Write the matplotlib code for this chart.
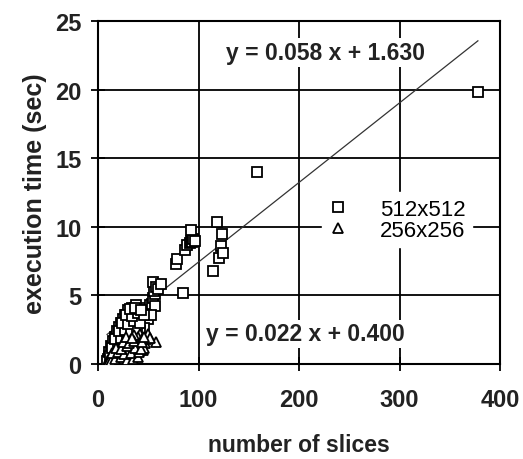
import matplotlib
matplotlib.use("Agg")
import matplotlib.pyplot as plt
import numpy as np

plt.rcParams['font.family'] = ['Liberation Sans', 'DejaVu Sans']

# 512x512 data (squares)
x512 = [10, 11, 12, 13, 14, 14, 15, 16, 16, 17, 18, 18, 19, 20, 20, 21, 22, 22, 23, 24,
        24, 25, 26, 26, 27, 28, 28, 29, 30, 31, 32, 33, 35, 36, 38, 40, 41, 43, 45, 47,
        50, 52, 54, 55, 57, 56, 55, 58, 60, 63, 57, 12, 15, 18, 22, 26, 30, 34, 28, 32,
        36, 40, 44,
        9, 11, 13, 15, 17, 19, 21, 23, 25, 27, 30, 34, 38, 24, 20, 28, 32, 36, 40, 44,
        48, 50, 53, 46, 42, 38, 16, 25, 30,
        12, 18, 24, 14, 20, 26, 32, 17, 23, 29, 35, 21, 27, 33, 39, 24, 30, 36, 42,
        28, 34, 40, 46, 32, 37, 43,
        78, 79, 85, 87, 89, 92, 93, 94, 95, 97, 92.5, 114, 118, 120, 122, 123, 124,
        158, 378]
y512 = [0.4, 0.6, 0.5, 0.8, 0.7, 1.0, 1.2, 0.9, 1.4, 1.1, 1.6, 1.3, 1.8, 1.5, 2.0, 1.7, 2.2, 1.9, 2.4, 2.1,
        2.7, 2.5, 2.9, 2.3, 3.1, 2.7, 3.3, 3.0, 3.5, 3.2, 3.7, 3.4, 3.9, 3.6, 4.0, 3.8, 3.6, 3.4, 3.8, 4.1,
        3.9, 4.3, 4.4, 4.8, 5.1, 5.3, 6.0, 5.6, 5.5, 5.8, 4.2, 0.3, 0.5, 0.7, 0.9, 1.3, 1.8, 2.4, 1.6, 2.0,
        2.8, 3.0, 2.9,
        0.2, 0.9, 1.3, 1.7, 2.0, 2.4, 2.7, 3.0, 3.3, 3.6, 3.9, 4.1, 4.3, 1.5, 1.0, 2.2, 2.7, 3.2, 3.4, 3.3,
        3.6, 3.3, 3.6, 2.6, 2.4, 2.2, 0.4, 1.0, 1.4,
        0.6, 0.7, 0.5, 1.2, 1.1, 1.3, 1.2, 1.8, 1.9, 1.7, 1.8, 2.4, 2.5, 2.3, 2.4, 3.0, 2.9, 3.1, 3.0,
        3.6, 3.5, 3.7, 3.6, 4.0, 4.1, 3.9,
        7.3, 7.65, 5.2, 8.3, 8.7, 8.8, 9.0, 8.9, 9.1, 9.0, 9.8, 6.8, 10.35, 7.7, 8.6, 9.5, 8.1,
        14.0, 19.8]

# 256x256 data (triangles)
x256 = [10, 12, 13, 14, 15, 16, 17, 18, 19, 20, 21, 22, 23, 24, 25, 26, 27, 28, 29, 30,
        31, 32, 33, 34, 35, 36, 38, 40, 42, 40, 44, 45, 47, 58, 33, 36,
        11, 15, 20, 24, 28, 32, 36, 38, 42, 46, 48, 50, 44, 39, 30, 26, 22, 34, 52, 13,
        17, 23, 29, 35, 40, 14, 20, 26, 33, 41, 18, 23, 29, 37, 43, 25, 31, 36, 44, 28, 34, 46]
y256 = [0.3, 0.4, 0.6, 0.5, 0.7, 0.6, 0.8, 0.5, 0.9, 0.7, 1.0, 0.6, 0.9, 1.1, 0.8, 1.2, 0.9, 0.5, 1.1, 0.7,
        1.3, 0.9, 1.2, 0.6, 1.0, 1.4, 1.1, 1.6, 2.2, 2.0, 1.3, 1.0, 1.5, 1.6, 1.8, 2.1,
        0.2, 0.3, 0.3, 0.4, 0.3, 0.4, 0.7, 0.8, 1.0, 1.2, 1.8, 2.2, 1.8, 1.3, 1.0, 0.6, 0.4, 1.5, 1.9, 0.2,
        0.4, 0.5, 0.3, 0.4, 0.5, 0.8, 0.9, 0.7, 0.8, 0.9, 1.2, 1.1, 1.3, 1.2, 1.1, 1.6, 1.5, 1.7, 1.6,
        2.0, 1.9, 2.0]

# trend lines
slope512, icept512 = 0.058, 1.630
slope256, icept256 = 0.022, 0.400
eq512 = "y = 0.058 x + 1.630"
eq256 = "y = 0.022 x + 0.400"
labels = ["512x512", "256x256"]

xticks = [0, 100, 200, 300, 400]
yticks = [0, 5, 10, 15, 20, 25]

fig = plt.figure(figsize=(5.23, 4.60), dpi=100)
ax = fig.add_axes([98/523, 1-365/460, 402/523, 343/460])

ax.set_xlim(0, 400)
ax.set_ylim(0, 25)

for v in [100, 200, 300]:
    ax.axvline(v, color='black', lw=1.3, zorder=0)
for v in [5, 10, 15, 20]:
    ax.axhline(v, color='black', lw=1.3, zorder=0)

xl = np.array([min(x512), max(x512)])
ax.plot(xl, slope512*xl + icept512, color='#333333', lw=0.9, zorder=3)
xl2 = np.array([min(x256), max(x256)])
ax.plot(xl2, slope256*xl2 + icept256, color='#333333', lw=0.9, zorder=3)

ax.plot(x512, y512, ls='none', marker='s', ms=7, mfc='white', mec='black', mew=1.3,
        label=labels[0], zorder=4)
ax.plot(x256, y256, ls='none', marker='^', ms=7, mfc='white', mec='black', mew=1.3,
        label=labels[1], zorder=5)

ax.text(226, 22.7, eq512, ha='center', va='center', fontsize=16.5, fontweight='bold',
        color='#222222', bbox=dict(facecolor='white', edgecolor='none', pad=2), zorder=6)
ax.text(206, 2.2, eq256, ha='center', va='center', fontsize=16.5, fontweight='bold',
        color='#222222', bbox=dict(facecolor='white', edgecolor='none', pad=2), zorder=6)

leg = ax.legend(loc='upper left', bbox_to_anchor=((322-98)/402, (365-193)/343),
                frameon=True, fancybox=False, framealpha=1, edgecolor='white',
                fontsize=16, handlelength=0.8, handletextpad=1.5, labelspacing=0.0,
                borderpad=0.3, borderaxespad=0)
leg.set_zorder(7)

ax.set_xticks(xticks)
ax.set_yticks(yticks)
ax.tick_params(direction='inout', length=10, width=1.3, labelsize=17)
ax.tick_params(axis='x', pad=12)
ax.tick_params(axis='y', pad=7)
for lab in ax.get_xticklabels() + ax.get_yticklabels():
    lab.set_fontweight('bold')
    lab.set_color('#222222')
for s in ax.spines.values():
    s.set_linewidth(1.5)

ax.set_xlabel("number of slices", fontsize=16.5, fontweight='bold', color='#222222', labelpad=16)
ax.set_ylabel("execution time (sec)", fontsize=18, fontweight='bold', color='#222222', labelpad=6)

fig.savefig("out.png", dpi=100)
